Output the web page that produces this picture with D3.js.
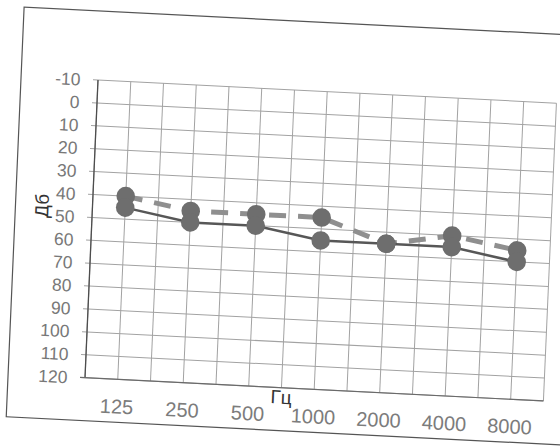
<!DOCTYPE html>
<html>
<head>
<meta charset="utf-8">
<script src="https://cdn.jsdelivr.net/npm/d3@7/dist/d3.min.js"></script>
<style>
  html, body { margin: 0; padding: 0; background: #ffffff; }
  svg { display: block; }
</style>
</head>
<body>
<svg id="chart" width="560" height="446"></svg>
<script>
// Audiogram: hearing threshold (dB) by frequency (Hz)
const frequencies = ["125", "250", "500", "1000", "2000", "4000", "8000"];
const levelTicks = [-10, 0, 10, 20, 30, 40, 50, 60, 70, 80, 90, 100, 110, 120];
const dashedSeries = [40, 45, 45, 45, 55, 50, 55];
const solidSeries = [45, 50, 50, 55, 55, 55, 60];
const xTitle = "Гц";
const yTitle = "Дб";

const plotW = 459, plotH = 298;

const svg = d3.select("#chart");

// the printed sheet sits slightly tilted on the page
const sheet = svg.append("g")
  .attr("transform", "matrix(0.99872,0.0506,-0.0436,0.99905,98,80)");

const x = d3.scaleBand().domain(frequencies).range([0, plotW]).paddingInner(0).paddingOuter(0);
const y = d3.scaleLinear().domain([-10, 120]).range([0, plotH]);
const cx = f => x(f) + x.bandwidth() / 2;

// chart area frame
sheet.append("rect")
  .attr("x", -77).attr("y", -69)
  .attr("width", 640).attr("height", 410)
  .attr("fill", "none")
  .attr("stroke", "#555")
  .attr("stroke-width", 1.2);

// horizontal grid (with tick stubs left of the axis)
sheet.append("g").selectAll("line")
  .data(levelTicks)
  .join("line")
  .attr("x1", -5).attr("x2", plotW)
  .attr("y1", d => y(d)).attr("y2", d => y(d))
  .attr("stroke", "#a2a2a2")
  .attr("stroke-width", 1);

// vertical grid: band edges and band centres
const vLines = [];
frequencies.forEach(f => { vLines.push(x(f)); vLines.push(cx(f)); });
vLines.push(plotW);
sheet.append("g").selectAll("line")
  .data(vLines)
  .join("line")
  .attr("x1", d => d).attr("x2", d => d)
  .attr("y1", 0).attr("y2", plotH)
  .attr("stroke", "#a2a2a2")
  .attr("stroke-width", 1);

// axes
sheet.append("line")
  .attr("x1", 0).attr("x2", 0).attr("y1", 0).attr("y2", plotH)
  .attr("stroke", "#4d4d4d").attr("stroke-width", 1.3);
sheet.append("line")
  .attr("x1", -5).attr("x2", plotW).attr("y1", plotH).attr("y2", plotH)
  .attr("stroke", "#6a6a6a").attr("stroke-width", 1.2);

// y tick labels
sheet.append("g").selectAll("text")
  .data(levelTicks)
  .join("text")
  .attr("x", -17.5)
  .attr("y", d => y(d))
  .attr("dy", "0.36em")
  .attr("text-anchor", "end")
  .attr("font-family", "'Liberation Sans', Arial, sans-serif")
  .attr("font-size", 17.5)
  .attr("fill", "#787878")
  .text(d => d);

// x tick labels
sheet.append("g").selectAll("text")
  .data(frequencies)
  .join("text")
  .attr("x", d => cx(d))
  .attr("y", plotH + 27)
  .attr("dy", "0.36em")
  .attr("text-anchor", "middle")
  .attr("font-family", "'Liberation Sans', Arial, sans-serif")
  .attr("font-size", 20)
  .attr("fill", "#7c7c7c")
  .text(d => d);

// axis titles
sheet.append("text")
  .attr("x", x("1000"))
  .attr("y", plotH + 16)
  .attr("text-anchor", "middle")
  .attr("font-family", "'Liberation Sans', Arial, sans-serif")
  .attr("font-size", 19)
  .attr("fill", "#333")
  .text(xTitle);

sheet.append("text")
  .attr("transform", `translate(-44,${y(46)}) rotate(-90)`)
  .attr("text-anchor", "middle")
  .attr("font-family", "'Liberation Sans', Arial, sans-serif")
  .attr("font-size", 19)
  .attr("fill", "#333")
  .text(yTitle);

// series lines
const line = d3.line().x(d => cx(d.f)).y(d => y(d.v));
const dashedPts = frequencies.map((f, i) => ({ f, v: dashedSeries[i] }));
const solidPts = frequencies.map((f, i) => ({ f, v: solidSeries[i] }));

sheet.append("path")
  .datum(dashedPts)
  .attr("d", line)
  .attr("fill", "none")
  .attr("stroke", "#8f8f8f")
  .attr("stroke-width", 5)
  .attr("stroke-dasharray", "17,12");

sheet.append("path")
  .datum(solidPts)
  .attr("d", line)
  .attr("fill", "none")
  .attr("stroke", "#575757")
  .attr("stroke-width", 2.5);

// markers
[dashedPts, solidPts].forEach(pts => {
  sheet.append("g").selectAll("circle")
    .data(pts)
    .join("circle")
    .attr("cx", d => cx(d.f))
    .attr("cy", d => y(d.v))
    .attr("r", 9.3)
    .attr("fill", "#6e6e6e");
});
</script>
</body>
</html>
